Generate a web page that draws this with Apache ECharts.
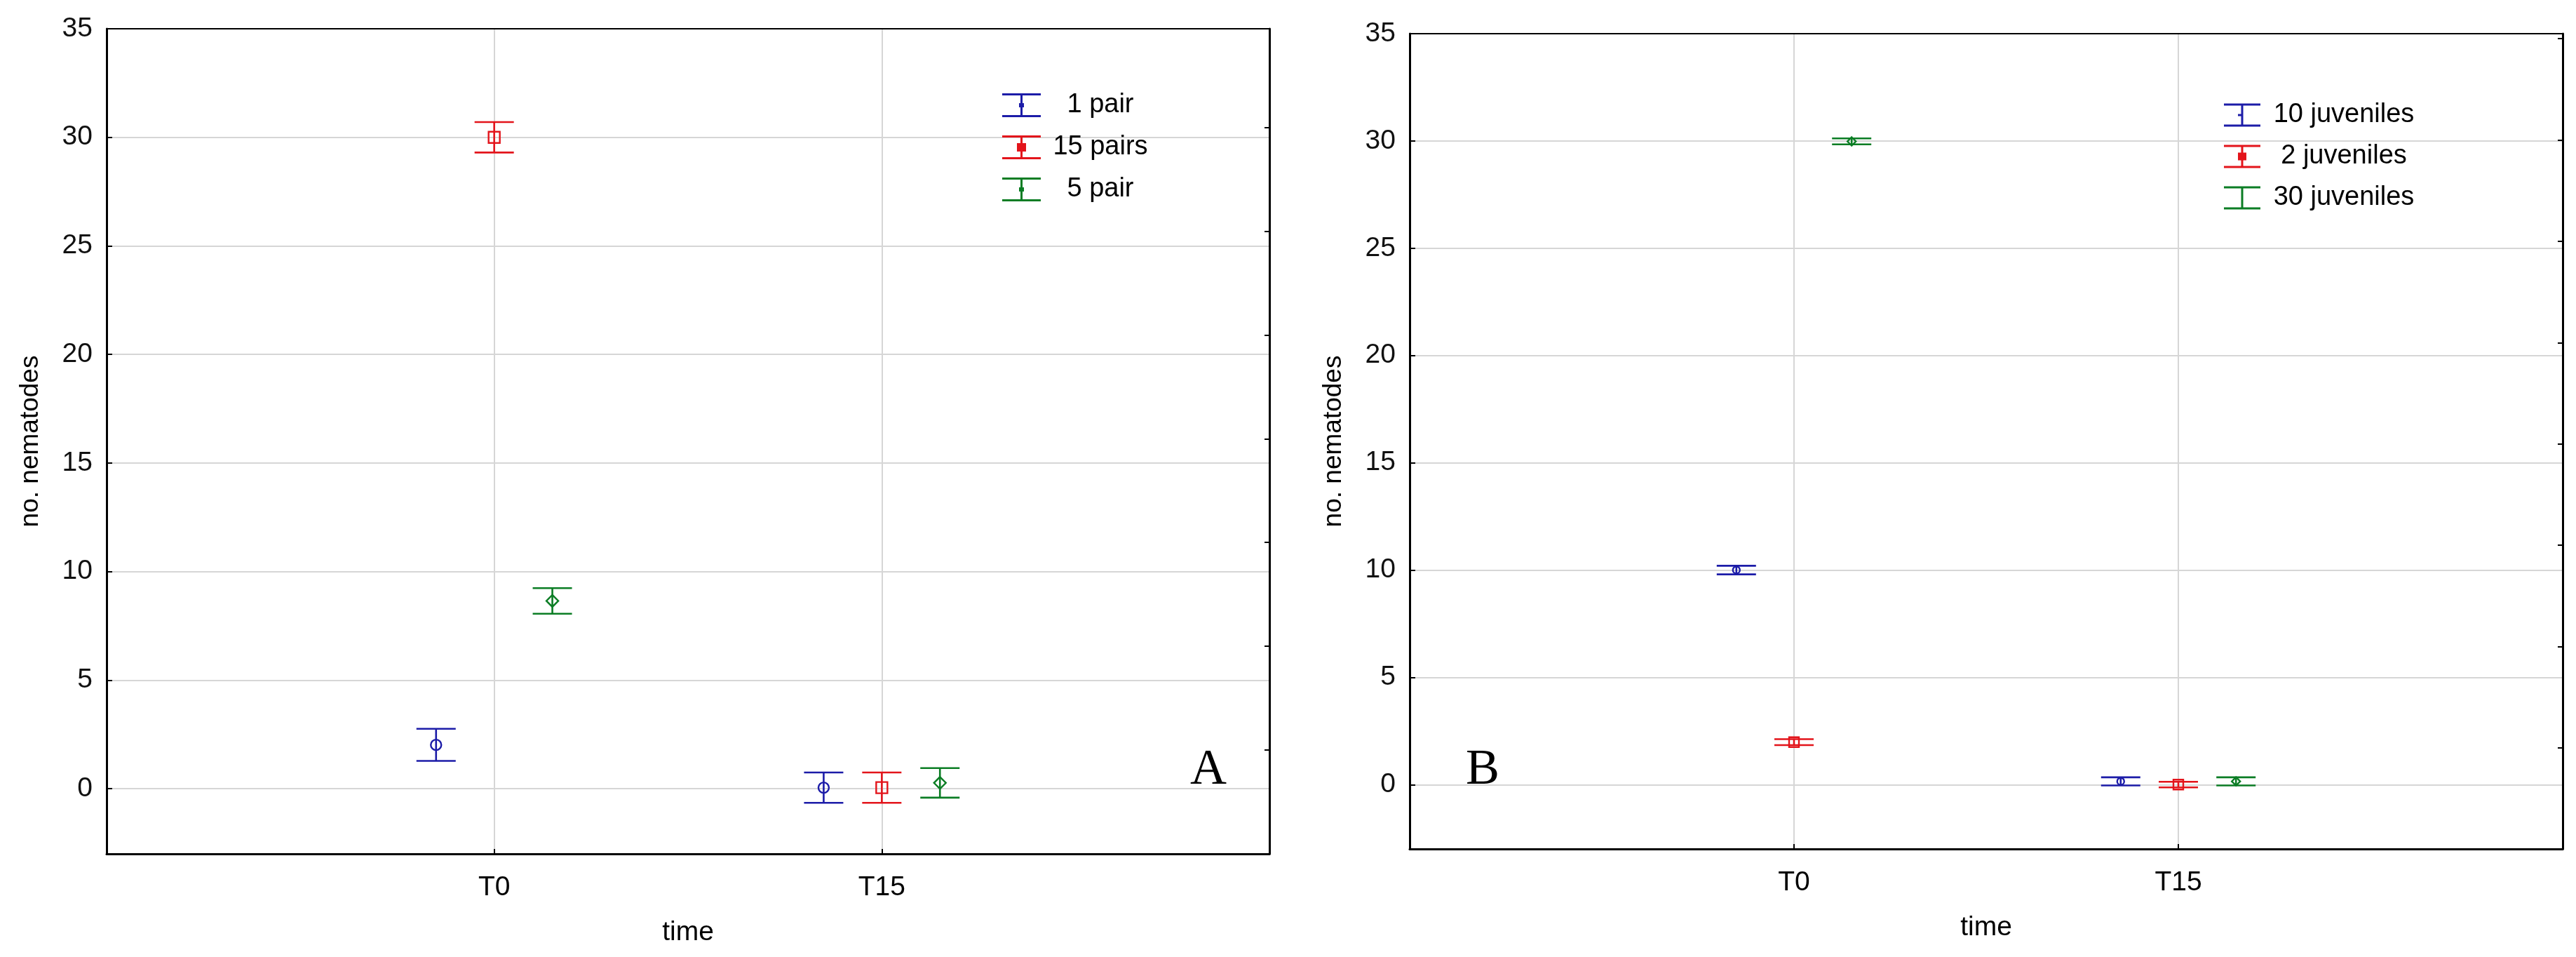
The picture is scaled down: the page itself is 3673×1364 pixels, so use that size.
<!DOCTYPE html>
<html>
<head>
<meta charset="utf-8">
<script src="https://cdn.jsdelivr.net/npm/echarts@6/dist/echarts.min.js"></script>
<style>html,body{margin:0;padding:0;background:#fff}#c{width:3673px;height:1364px}</style>
</head>
<body>
<div id="c"></div>
<script>
// ---------- data ----------
const categories = ['T0', 'T15'];
const yTickLabels = ['0', '5', '10', '15', '20', '25', '30', '35'];

// Panel A
const seriesNamesA = ['1 pair', '15 pairs', '5 pair'];
const meanA_1pair = [2.02, 0.05];
const errA_1pair = [0.74, 0.70];
const meanA_15pairs = [30.0, 0.05];
const errA_15pairs = [0.70, 0.70];
const meanA_5pair = [8.65, 0.27];
const errA_5pair = [0.59, 0.68];

// Panel B
const seriesNamesB = ['10 juveniles', '2 juveniles', '30 juveniles'];
const meanB_10juv = [10.0, 0.15];
const errB_10juv = [0.20, 0.19];
const meanB_2juv = [1.98, 0.0];
const errB_2juv = [0.14, 0.13];
const meanB_30juv = [29.98, 0.15];
const errB_30juv = [0.14, 0.19];

// ---------- styling ----------
const FONT = "'Liberation Sans', Arial, sans-serif";
const COLORS = ['#1c1ca8', '#e3141b', '#0b7d24'];
const OFFSETS = [-0.15, 0, 0.15];
const CAP_HALF = 28;
const GRID_COLOR = '#d6d6d6';

function errorBar(params, api) {
  const x = api.value(0), lo = api.value(1), hi = api.value(2);
  const pLo = api.coord([x, lo]);
  const pHi = api.coord([x, hi]);
  const style = { stroke: api.visual('color'), lineWidth: 2.6, fill: null };
  return {
    type: 'group',
    children: [
      { type: 'line', shape: { x1: pHi[0] - CAP_HALF, y1: pHi[1], x2: pHi[0] + CAP_HALF, y2: pHi[1] }, style },
      { type: 'line', shape: { x1: pLo[0] - CAP_HALF, y1: pLo[1], x2: pLo[0] + CAP_HALF, y2: pLo[1] }, style },
      { type: 'line', shape: { x1: pLo[0], y1: pLo[1], x2: pHi[0], y2: pHi[1] }, style }
    ]
  };
}

function panelSeries(names, means, errs, axisBase, markers, sizes) {
  const out = [];
  names.forEach((name, i) => {
    const xs = categories.map((c, k) => k + 1 + OFFSETS[i]);
    out.push({
      type: 'custom', name, xAxisIndex: axisBase, yAxisIndex: axisBase,
      itemStyle: { color: COLORS[i] }, renderItem: errorBar, z: 3,
      encode: { x: 0, y: [1, 2] },
      data: xs.map((x, k) => [x, means[i][k] - errs[i][k], means[i][k] + errs[i][k]])
    });
    out.push({
      type: 'scatter', name, xAxisIndex: axisBase, yAxisIndex: axisBase, z: 4,
      symbol: markers[i], symbolSize: sizes[i],
      itemStyle: { color: 'rgba(255,255,255,0)', borderColor: COLORS[i], borderWidth: 2.4, opacity: 1 },
      data: xs.map((x, k) => [x, means[i][k]])
    });
  });
  return out;
}

function xAxes(gridIndex) {
  return [
    {
      gridIndex, type: 'value', position: 'bottom', min: 0, max: 3, interval: 1,
      axisLine: { show: true, onZero: false, lineStyle: { color: '#000', width: 3 } },
      axisTick: { show: true, inside: true, length: 7, lineStyle: { color: '#000', width: 2 } },
      axisLabel: { margin: 29, fontSize: 39, color: '#000', fontFamily: FONT,
        formatter: v => categories[Math.round(v) - 1] || '' },
      splitLine: { show: true, lineStyle: { color: GRID_COLOR, width: 2 } },
      name: 'time', nameLocation: 'middle', nameGap: 93,
      nameTextStyle: { fontSize: 39, color: '#000', fontFamily: FONT }
    },
    {
      gridIndex, type: 'value', position: 'top', min: 0, max: 3, interval: 1,
      axisLine: { show: true, onZero: false, lineStyle: { color: '#000', width: 2 } },
      axisTick: { show: false }, axisLabel: { show: false }, splitLine: { show: false }
    }
  ];
}

function yAxes(gridIndex, rightMax) {
  return [
    {
      gridIndex, type: 'value', position: 'left', min: -3, max: 35, splitNumber: 8,
      axisLine: { show: true, onZero: false, lineStyle: { color: '#000', width: 3 } },
      axisTick: { show: true, inside: true, length: 8, lineStyle: { color: '#000', width: 2 } },
      axisLabel: { margin: 20, fontSize: 39, color: '#111', fontFamily: FONT,
        formatter: v => yTickLabels.includes(String(v)) ? String(v) : '' },
      splitLine: { show: true, lineStyle: { color: GRID_COLOR, width: 2 } },
      name: 'no. nematodes', nameLocation: 'middle', nameGap: 90,
      nameTextStyle: { fontSize: 37, color: '#000', fontFamily: FONT }
    },
    {
      gridIndex, type: 'value', position: 'right', min: -1, max: rightMax, interval: 1,
      axisLine: { show: true, onZero: false, lineStyle: { color: '#000', width: 3 } },
      axisTick: { show: true, inside: true, length: 7, lineStyle: { color: '#000', width: 2 } },
      axisLabel: { show: false }, splitLine: { show: false }
    }
  ];
}

const baseA = 'M0,0h55v3h-55z M0,31h55v3h-55z M26,0h3v34h-3z';
const iconsA = [
  'path://' + baseA + ' M24,14h7v6h-7z',
  'path://' + baseA + ' M21,11h13v12h-13z',
  'path://' + baseA + ' M24,14h7v6h-7z'
];
const baseB = 'M0,0h52v3h-52z M0,30h52v3h-52z M24.5,0h3v33h-3z';
const iconsB = [
  'path://' + baseB + ' M20,15h5v3h-5z',
  'path://' + baseB + ' M20,11h12v11h-12z',
  'path://' + baseB
];

const meansA = [meanA_1pair, meanA_15pairs, meanA_5pair];
const errsA = [errA_1pair, errA_15pairs, errA_5pair];
const meansB = [meanB_10juv, meanB_2juv, meanB_30juv];
const errsB = [errB_10juv, errB_2juv, errB_30juv];

const option = {
  backgroundColor: '#fff',
  animation: false,
  grid: [
    { left: 152, top: 41, width: 1658, height: 1176 },
    { left: 2010, top: 48, width: 1644, height: 1162 }
  ],
  xAxis: [...xAxes(0), ...xAxes(1)],
  yAxis: [...yAxes(0, 6.95), ...yAxes(1, 7.05)],
  legend: [
    {
      orient: 'vertical', left: 1424, top: 126, itemWidth: 55, itemHeight: 34, itemGap: 22,
      align: 'left', selectedMode: false,
      data: seriesNamesA.map((n, i) => ({ name: n, icon: iconsA[i], itemStyle: { color: COLORS[i], borderWidth: 0, opacity: 1 } })),
      formatter: n => '{t|' + n + '}',
      textStyle: { rich: { t: { width: 160, align: 'center', fontSize: 38, lineHeight: 34, color: '#000', fontFamily: FONT } } }
    },
    {
      orient: 'vertical', left: 3166, top: 140, itemWidth: 52, itemHeight: 33, itemGap: 21,
      align: 'left', selectedMode: false,
      data: seriesNamesB.map((n, i) => ({ name: n, icon: iconsB[i], itemStyle: { color: COLORS[i], borderWidth: 0, opacity: 1 } })),
      formatter: n => '{t|' + n + '}',
      textStyle: { rich: { t: { width: 228, align: 'center', fontSize: 38, lineHeight: 33, color: '#000', fontFamily: FONT } } }
    }
  ],
  graphic: [
    { type: 'text', left: 1697, top: 1062, style: { text: 'A', font: "72px 'Liberation Serif', 'Times New Roman', serif", fill: '#000' } },
    { type: 'text', left: 2090, top: 1062, style: { text: 'B', font: "72px 'Liberation Serif', 'Times New Roman', serif", fill: '#000' } }
  ],
  series: [
    ...panelSeries(seriesNamesA, meansA, errsA, 0, ['circle', 'rect', 'diamond'], [15, 16, 17]),
    ...panelSeries(seriesNamesB, meansB, errsB, 2, ['circle', 'rect', 'diamond'], [10, 14, 12])
  ]
};

const chart = echarts.init(document.getElementById('c'), null, { renderer: 'canvas' });
chart.setOption(option);
</script>
</body>
</html>
